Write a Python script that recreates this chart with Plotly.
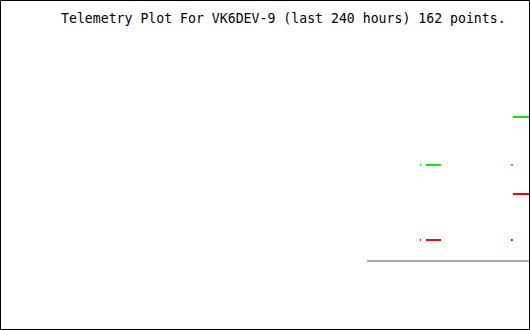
import plotly.graph_objects as go

# Time axis: hours relative to now (last 240 hours)
hours_range = [-240, 0]
value_range = [0, 100]

# Series values (time in hours, value), None marks gaps between segments
green_t = [-49.81, -49.36, None, -47.1, -40.3, None, -8.6, -7.75, None, -7.7, 0]
green_v = [50.0, 50.0, None, 50.0, 50.0, None, 50.0, 50.0, None, 64.55, 64.55]

red_t = [-49.81, -49.36, None, -47.1, -40.3, None, -8.6, -7.75, None, -7.7, 0]
red_v = [27.27, 27.27, None, 27.27, 27.27, None, 27.27, 27.27, None, 41.21, 41.21]

gray_t = [-73.8, 0]
gray_v = [20.91, 20.91]

title_text = "Telemetry Plot For VK6DEV-9 (last 240 hours) 162 points."

fig = go.Figure()
fig.add_trace(go.Scatter(x=gray_t, y=gray_v, mode="lines",
                         line=dict(color="#aaaaaa", width=2), connectgaps=False,
                         hoverinfo="skip", showlegend=False))
fig.add_trace(go.Scatter(x=green_t, y=green_v, mode="lines",
                         line=dict(color="#00ee00", width=2), connectgaps=False,
                         showlegend=False))
fig.add_trace(go.Scatter(x=red_t, y=red_v, mode="lines",
                         line=dict(color="#ff0000", width=2), connectgaps=False,
                         showlegend=False))

fig.update_layout(
    width=530, height=330, autosize=False,
    margin=dict(l=0, r=0, t=0, b=0, pad=0),
    paper_bgcolor="white", plot_bgcolor="white",
    xaxis=dict(range=hours_range, visible=False, fixedrange=True),
    yaxis=dict(range=value_range, visible=False, fixedrange=True),
    shapes=[dict(type="rect", xref="paper", yref="paper",
                 x0=0.5 / 530, x1=529.5 / 530, y0=0.5 / 330, y1=329.5 / 330,
                 line=dict(color="black", width=1), layer="above")],
    annotations=[dict(text=title_text, xref="paper", yref="paper",
                      x=283 / 530, y=1 - 18 / 330, xanchor="center", yanchor="middle",
                      showarrow=False,
                      font=dict(family="DejaVu Sans Mono", size=13.2, color="black"))],
)

fig.write_html("out.html")
